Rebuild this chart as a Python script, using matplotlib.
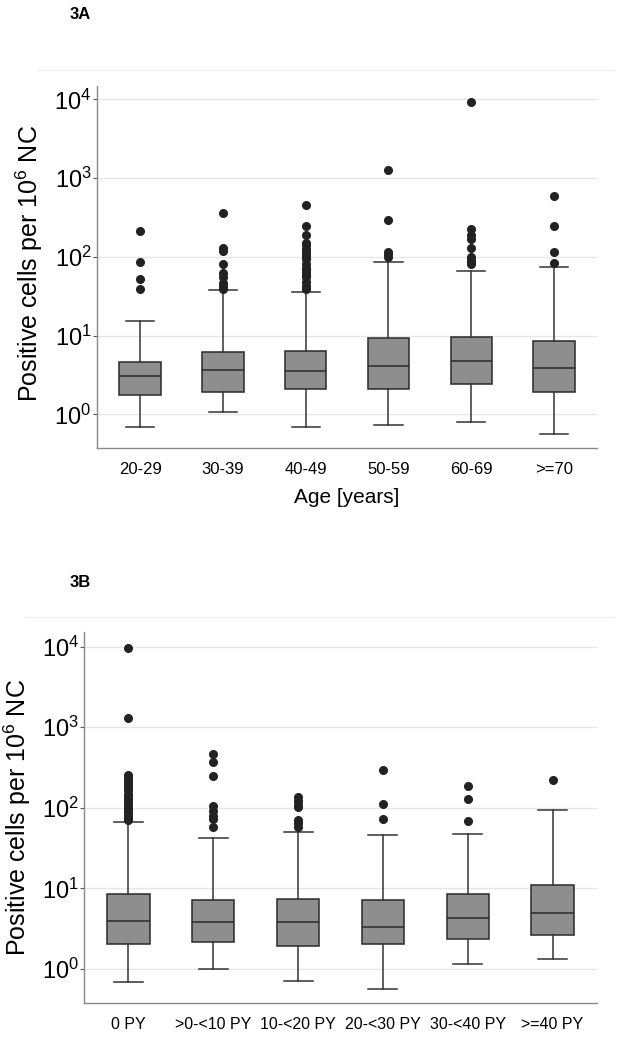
import matplotlib
matplotlib.use("Agg")
import matplotlib.pyplot as plt
from matplotlib.lines import Line2D

plt.rcParams['font.family'] = ['Liberation Sans', 'DejaVu Sans']
plt.rcParams['mathtext.fontset'] = 'custom'
plt.rcParams['mathtext.rm'] = 'Liberation Sans'
plt.rcParams['mathtext.it'] = 'Liberation Sans:italic'
plt.rcParams['mathtext.bf'] = 'Liberation Sans:bold'

# panel 3A: age groups
age_labels = ["20-29", "30-39", "40-49", "50-59", "60-69", ">=70"]
age_q1 = [1.76, 1.90, 2.08, 2.08, 2.45, 1.90]
age_med = [3.09, 3.65, 3.51, 4.10, 4.80, 3.87]
age_q3 = [4.57, 6.24, 6.37, 9.31, 9.59, 8.60]
age_lo = [0.69, 1.08, 0.69, 0.725, 0.79, 0.56]
age_hi = [15.4, 37.5, 35.7, 85.0, 66.6, 73.5]
age_out = [
    [215, 87, 52, 39],
    [363, 130, 120, 80, 62, 55, 47, 42, 39],
    [451, 244, 188, 150, 140, 127, 118, 110, 100, 95, 80, 73, 68, 64, 58, 55, 48, 42, 39],
    [1280, 295, 116, 107, 98],
    [9300, 223, 190, 167, 128, 98, 91, 85, 80],
    [587, 246, 115, 84],
]

# panel 3B: pack years
py_labels = ["0 PY", ">0-<10 PY", "10-<20 PY", "20-<30 PY", "30-<40 PY", ">=40 PY"]
py_q1 = [2.02, 2.18, 1.95, 2.02, 2.33, 2.62]
py_med = [3.94, 3.86, 3.80, 3.35, 4.29, 5.00]
py_q3 = [8.45, 7.11, 7.33, 7.24, 8.52, 11.0]
py_lo = [0.68, 1.00, 0.70, 0.57, 1.15, 1.31]
py_hi = [66.0, 42.2, 50.0, 46.0, 46.9, 93.0]
py_out = [
    [9530, 1300, 255, 235, 215, 195, 180, 165, 150, 140, 128, 118, 108, 100, 93, 86, 80, 75, 71],
    [461, 367, 250, 105, 91, 79, 72, 58],
    [135, 122, 108, 101, 71, 64, 57],
    [297, 110, 73],
    [185, 127, 68],
    [223],
]


def box_panel(ax, labels, q1, med, q3, lo, hi, out):
    stats = []
    for i in range(len(labels)):
        stats.append(dict(label=labels[i], q1=q1[i], med=med[i], q3=q3[i],
                          whislo=lo[i], whishi=hi[i], fliers=out[i]))
    pos = list(range(1, len(labels) + 1))
    ax.bxp(stats, positions=pos, widths=0.5, capwidths=0.34, patch_artist=True,
           boxprops=dict(facecolor="#8e8e8e", edgecolor="#2a2a2a", linewidth=1.1),
           medianprops=dict(color="#2a2a2a", linewidth=1.1),
           whiskerprops=dict(color="#333333", linewidth=1.1),
           capprops=dict(color="#333333", linewidth=1.1),
           flierprops=dict(marker="o", markerfacecolor="#222222",
                           markeredgecolor="#222222", markersize=5.5))
    ax.set_yscale("log")
    ax.set_xlim(0.48, len(labels) + 0.52)
    ax.yaxis.grid(True, which="major", color="#e6e6e6", linewidth=1)
    ax.set_axisbelow(True)
    ax.minorticks_off()
    ax.set_yticks([1, 10, 100, 1000, 10000])
    ax.tick_params(axis="y", labelsize=17, length=3, pad=1, color="#555555")
    ax.tick_params(axis="x", length=0, pad=10)
    for s in ["top", "right"]:
        ax.spines[s].set_visible(False)
    for s in ["left", "bottom"]:
        ax.spines[s].set_color("#888888")
        ax.spines[s].set_linewidth(1)
    ax.set_ylabel(r"Positive cells per 10$^{6}$ NC", fontsize=18)


fig = plt.figure(figsize=(6.2, 10.5), dpi=100)

axA = fig.add_axes([0.1565, 0.5733, 0.8065, 0.3448])
box_panel(axA, age_labels, age_q1, age_med, age_q3, age_lo, age_hi, age_out)
axA.set_ylim(0.373, 10 ** 4.169)
axA.tick_params(axis="x", labelsize=12)
axA.set_xlabel("Age [years]", fontsize=15, labelpad=8)
axA.yaxis.set_label_coords(-0.104, 0.51)

axB = fig.add_axes([0.136, 0.0445, 0.8264, 0.354])
box_panel(axB, py_labels, py_q1, py_med, py_q3, py_lo, py_hi, py_out)
axB.set_ylim(0.375, 10 ** 4.186)
axB.tick_params(axis="x", labelsize=11.5)
axB.yaxis.set_label_coords(-0.1, 0.5)

fig.text(0.113, 0.986, "3A", fontsize=12, fontweight="bold", ha="left", va="center")
fig.text(0.113, 0.445, "3B", fontsize=12, fontweight="bold", ha="left", va="center")

# faint frame lines above each panel
fig.add_artist(Line2D([0.06, 0.99], [1 - 70 / 1050, 1 - 70 / 1050], color="#f0f0f0", linewidth=1))
fig.add_artist(Line2D([0.04, 0.99], [1 - 617 / 1050, 1 - 617 / 1050], color="#f0f0f0", linewidth=1))

fig.savefig("out.png", dpi=100, facecolor="white")
